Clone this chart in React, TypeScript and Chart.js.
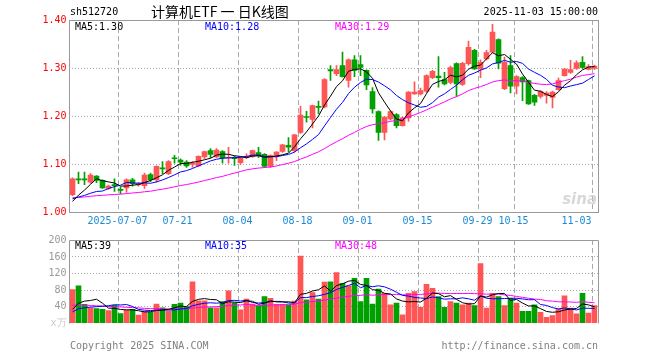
import React, { useEffect, useRef } from "react";
import { Chart, registerables } from "chart.js";

Chart.register(...registerables);

// ---------------- data ----------------
const opens = [
  1.037, 1.069, 1.069, 1.063, 1.076, 1.067, 1.050, 1.057, 1.047, 1.051,
  1.068, 1.058, 1.056, 1.079, 1.068, 1.092, 1.081, 1.113, 1.109, 1.105,
  1.100, 1.097, 1.116, 1.129, 1.116, 1.127, 1.113, 1.115, 1.104, 1.114,
  1.117, 1.125, 1.121, 1.096, 1.119, 1.127, 1.140, 1.129, 1.167, 1.200,
  1.194, 1.221, 1.220, 1.298, 1.289, 1.306, 1.275, 1.318, 1.308, 1.296,
  1.252, 1.210, 1.167, 1.195, 1.204, 1.181, 1.197, 1.247, 1.247, 1.253,
  1.281, 1.284, 1.277, 1.271, 1.310, 1.267, 1.310, 1.338, 1.299, 1.320,
  1.334, 1.360, 1.258, 1.306, 1.263, 1.281, 1.275, 1.244, 1.242, 1.244,
  1.240, 1.256, 1.285, 1.292, 1.300, 1.313, 1.298, 1.300,
];
const highs = [
  1.072, 1.084, 1.084, 1.081, 1.077, 1.068, 1.057, 1.070, 1.053, 1.070,
  1.071, 1.063, 1.082, 1.082, 1.097, 1.106, 1.108, 1.119, 1.112, 1.108,
  1.106, 1.118, 1.128, 1.133, 1.133, 1.129, 1.136, 1.118, 1.116, 1.122,
  1.130, 1.136, 1.123, 1.120, 1.127, 1.142, 1.156, 1.163, 1.221, 1.211,
  1.224, 1.232, 1.279, 1.306, 1.306, 1.334, 1.320, 1.327, 1.327, 1.297,
  1.260, 1.212, 1.200, 1.212, 1.206, 1.199, 1.252, 1.272, 1.259, 1.287,
  1.296, 1.325, 1.292, 1.305, 1.312, 1.313, 1.357, 1.340, 1.318, 1.338,
  1.392, 1.362, 1.324, 1.327, 1.285, 1.283, 1.276, 1.246, 1.254, 1.252,
  1.253, 1.280, 1.300, 1.317, 1.316, 1.325, 1.308, 1.307,
];
const lows = [
  1.035, 1.060, 1.058, 1.061, 1.062, 1.050, 1.048, 1.044, 1.039, 1.042,
  1.055, 1.055, 1.050, 1.064, 1.063, 1.081, 1.079, 1.103, 1.098, 1.094,
  1.094, 1.096, 1.112, 1.114, 1.114, 1.103, 1.103, 1.098, 1.100, 1.112,
  1.115, 1.115, 1.094, 1.094, 1.108, 1.125, 1.126, 1.126, 1.165, 1.188,
  1.176, 1.206, 1.218, 1.275, 1.285, 1.282, 1.261, 1.283, 1.285, 1.256,
  1.207, 1.150, 1.151, 1.193, 1.176, 1.180, 1.190, 1.246, 1.245, 1.250,
  1.279, 1.261, 1.266, 1.268, 1.242, 1.265, 1.307, 1.298, 1.281, 1.318,
  1.333, 1.299, 1.256, 1.249, 1.247, 1.233, 1.225, 1.223, 1.238, 1.228,
  1.218, 1.255, 1.284, 1.290, 1.298, 1.300, 1.297, 1.298,
];
const closes = [
  1.070, 1.068, 1.068, 1.078, 1.067, 1.051, 1.055, 1.056, 1.046, 1.068,
  1.060, 1.060, 1.078, 1.068, 1.096, 1.091, 1.106, 1.112, 1.105, 1.097,
  1.103, 1.117, 1.127, 1.121, 1.130, 1.113, 1.115, 1.112, 1.114, 1.117,
  1.129, 1.119, 1.096, 1.119, 1.126, 1.141, 1.136, 1.162, 1.203, 1.198,
  1.223, 1.219, 1.277, 1.295, 1.298, 1.283, 1.318, 1.296, 1.302, 1.266,
  1.216, 1.167, 1.199, 1.210, 1.181, 1.197, 1.251, 1.251, 1.254, 1.285,
  1.294, 1.281, 1.268, 1.302, 1.268, 1.311, 1.344, 1.299, 1.313, 1.333,
  1.376, 1.311, 1.313, 1.263, 1.283, 1.272, 1.226, 1.230, 1.252, 1.249,
  1.251, 1.275, 1.299, 1.298, 1.312, 1.302, 1.304, 1.305,
];
// volume, in 万
const volumes = [
  81, 90, 45, 37, 35, 33, 30, 43, 23, 31,
  33, 19, 28, 26, 46, 37, 29, 45, 48, 40,
  100, 54, 54, 37, 37, 52, 78, 49, 32, 58,
  46, 41, 64, 60, 45, 45, 43, 53, 162, 56,
  74, 58, 99, 100, 122, 96, 90, 108, 52, 108,
  46, 82, 72, 44, 48, 20, 72, 76, 38, 94,
  84, 64, 38, 52, 48, 44, 48, 42, 144, 36,
  72, 64, 42, 60, 48, 28, 28, 44, 26, 14,
  18, 34, 66, 36, 22, 72, 24, 42,
];
// estimated sessions before the visible window (needed for the moving averages)
const priorCloses = [
  1.045, 1.040, 1.036, 1.030, 1.025, 1.028, 1.033, 1.030, 1.027, 1.024,
  1.029, 1.034, 1.031, 1.028, 1.033, 1.036, 1.032, 1.029, 1.031, 1.034,
  1.030, 1.035, 1.033, 1.030, 1.042, 1.002, 1.016, 1.017, 1.010,
];
const priorVolumes = [
  62, 58, 70, 55, 48, 66, 52, 45, 60, 50,
  44, 57, 49, 41, 53, 46, 38, 42, 48, 35,
  15, 22, 20, 25, 23, 15, 20, 29, 20,
];

const tickIndices = [8, 18, 28, 38, 48, 58, 68, 74, 87];
const tickLabels = ["2025-07-07", "07-21", "08-04", "08-18", "09-01", "09-15", "09-29", "10-15", "11-03"];
const priceTicks = [1.0, 1.1, 1.2, 1.3, 1.4];
const volumeTicks = [0, 40, 80, 120, 160, 200];
const volumeUnit = "x万";

const symbolText = "sh512720";
const titleText = "计算机ETF 一 日K线图";
const timeText = "2025-11-03 15:00:00";
const priceMaLabels = ["MA5:1.30", "MA10:1.28", "MA30:1.29"];
const volumeMaLabels = ["MA5:39", "MA10:35", "MA30:48"];
const copyrightText = "Copyright 2025 SINA.COM";
const urlText = "http://finance.sina.com.cn";

// ---------------- styling ----------------
const RED = "#ff5555";
const GREEN = "#00a000";
const MA_COLORS = ["#000000", "#0000ff", "#ff00ff"];
const MONO = "'DejaVu Sans Mono', 'Liberation Mono', monospace";
const GRID = "#aaaaaa";
const FRAME = "#999999";

function movingAverage(values: number[], prior: number[], n: number) {
  const all = [...prior, ...values];
  return values.map((_, i) => {
    const end = prior.length + i;
    let s = 0;
    for (let k = end - n + 1; k <= end; k++) s += all[k];
    return s / n;
  });
}

const candleColors = closes.map((c, i) => (c > opens[i] ? RED : GREEN));

function drawVerticalGrid(chart: any) {
  const { ctx, chartArea: a, scales } = chart;
  const x = scales.x;
  ctx.save();
  ctx.strokeStyle = GRID;
  ctx.lineWidth = 1;
  ctx.setLineDash([5, 3]);
  for (const t of tickIndices) {
    const px = Math.round(x.getPixelForValue(t)) + 0.5;
    ctx.beginPath();
    ctx.moveTo(px, Math.floor(a.top));
    ctx.lineTo(px, Math.ceil(a.bottom));
    ctx.stroke();
  }
  ctx.restore();
}

function drawHorizontalGrid(chart: any, ticks: number[]) {
  const { ctx, chartArea: a, scales } = chart;
  const y = scales.y;
  ctx.save();
  ctx.strokeStyle = GRID;
  ctx.lineWidth = 1;
  ctx.setLineDash([1, 2]);
  for (const v of ticks) {
    if (v <= y.min || v >= y.max) continue;
    const py = Math.floor(y.getPixelForValue(v)) + 0.5;
    ctx.beginPath();
    ctx.moveTo(Math.floor(a.left), py);
    ctx.lineTo(Math.ceil(a.right), py);
    ctx.stroke();
  }
  ctx.restore();
}

function drawMaLabels(ctx: any, labels: string[], y: number) {
  ctx.save();
  ctx.font = `10px ${MONO}`;
  ctx.textBaseline = "middle";
  ctx.textAlign = "left";
  const xs = [75, 205, 335];
  labels.forEach((t, i) => {
    ctx.fillStyle = MA_COLORS[i];
    ctx.fillText(t, xs[i], y);
  });
  ctx.restore();
}

const priceDecor = {
  id: "priceDecor",
  beforeDatasetsDraw(chart: any) {
    drawHorizontalGrid(chart, priceTicks);
    drawVerticalGrid(chart);
  },
  afterDraw(chart: any) {
    const { ctx, chartArea: a } = chart;
    ctx.save();
    ctx.strokeStyle = FRAME;
    ctx.lineWidth = 1;
    const l = Math.floor(a.left) + 0.5;
    const r = Math.ceil(a.right) + 0.5;
    const t = Math.floor(a.top) + 0.5;
    const b = Math.floor(a.bottom) + 0.5;
    ctx.strokeRect(l, t, r - l, b - t);
    ctx.fillStyle = "#000";
    ctx.textBaseline = "middle";
    ctx.font = `10px ${MONO}`;
    ctx.textAlign = "left";
    ctx.fillText(symbolText, 70, 12);
    ctx.textAlign = "right";
    ctx.fillText(timeText, 598, 12);
    ctx.textAlign = "left";
    ctx.font = "14px 'Noto Sans CJK SC', sans-serif";
    ctx.fillText(titleText, 151, 12);
    ctx.font = "italic bold 15px 'DejaVu Sans', sans-serif";
    ctx.fillStyle = "rgba(200,200,200,0.7)";
    ctx.textAlign = "right";
    ctx.textBaseline = "alphabetic";
    ctx.fillText("sina", 597, 204);
    ctx.restore();
    drawMaLabels(ctx, priceMaLabels, 27);
  },
};

const volumeDecor = {
  id: "volumeDecor",
  beforeDatasetsDraw(chart: any) {
    drawHorizontalGrid(chart, volumeTicks);
    drawVerticalGrid(chart);
  },
  afterDraw(chart: any) {
    const { ctx, chartArea: a } = chart;
    ctx.save();
    ctx.strokeStyle = FRAME;
    ctx.lineWidth = 1;
    const l = Math.floor(a.left) + 0.5;
    const r = Math.ceil(a.right) + 0.5;
    const t = Math.floor(a.top) + 0.5;
    const b = Math.floor(a.bottom) + 0.5;
    ctx.beginPath();
    ctx.moveTo(l, b);
    ctx.lineTo(l, t);
    ctx.lineTo(r, t);
    ctx.lineTo(r, b);
    ctx.stroke();
    ctx.fillStyle = "#808080";
    ctx.font = `10px ${MONO}`;
    ctx.textBaseline = "middle";
    ctx.textAlign = "left";
    ctx.fillText(copyrightText, 70, 116);
    ctx.textAlign = "right";
    ctx.fillText(urlText, 598, 116);
    ctx.restore();
    drawMaLabels(ctx, volumeMaLabels, 16);
  },
};

function lineDataset(label: string, values: number[], color: string) {
  return {
    type: "line" as const,
    label,
    data: values.map((v, i) => ({ x: i + 0.5, y: v })),
    borderColor: color,
    borderWidth: 1,
    pointRadius: 0,
    tension: 0,
    order: 0,
  };
}

export default function App() {
  const priceRef = useRef<HTMLCanvasElement>(null);
  const volRef = useRef<HTMLCanvasElement>(null);

  useEffect(() => {
    document.body.style.margin = "0";
    const n = closes.length;

    const pMa = [5, 10, 30].map((k) => movingAverage(closes, priorCloses, k));
    const vMa = [5, 10, 30].map((k) => movingAverage(volumes, priorVolumes, k));

    const xScale = (showLabels: boolean) => ({
      type: "linear" as const,
      min: 0,
      max: n,
      offset: false,
      bounds: "ticks",
      display: showLabels,
      grid: { display: false, drawTicks: false, offset: false },
      border: { display: false },
      afterBuildTicks: (s: any) => {
        s.ticks = tickIndices.map((v) => ({ value: v }));
      },
      afterFit: (s: any) => {
        s.height = 17.5;
      },
      ticks: {
        autoSkip: false,
        maxRotation: 0,
        minRotation: 0,
        padding: 3,
        color: "#1a8ad6",
        font: { family: MONO, size: 10 },
        callback: (v: any) => {
          const k = tickIndices.indexOf(Number(v));
          if (k < 0) return "";
          // the last label is kept inside the frame (shifted left by padding spaces)
          return k === tickIndices.length - 1 ? tickLabels[k] + "     " : tickLabels[k];
        },
      },
    });

    const priceChart = new Chart(priceRef.current as HTMLCanvasElement, {
      type: "bar",
      data: {
        datasets: [
          lineDataset("MA5", pMa[0], MA_COLORS[0]),
          lineDataset("MA10", pMa[1], MA_COLORS[1]),
          lineDataset("MA30", pMa[2], MA_COLORS[2]),
          {
            type: "bar",
            label: "body",
            data: closes.map((c, i) => ({ x: i + 0.5, y: [Math.min(opens[i], c), Math.max(opens[i], c)] })),
            backgroundColor: candleColors,
            barThickness: 5,
            minBarLength: 1,
            grouped: false,
            order: 2,
          } as any,
          {
            type: "bar",
            label: "wick",
            data: highs.map((h, i) => ({ x: i + 0.5, y: [lows[i], h] })),
            backgroundColor: candleColors,
            barThickness: 1,
            grouped: false,
            order: 3,
          } as any,
        ],
      },
      options: {
        animation: false,
        responsive: false,
        maintainAspectRatio: false,
        layout: { padding: { top: 20.5, right: 62.5, left: 0, bottom: 0 } },
        plugins: { legend: { display: false }, tooltip: { enabled: false } },
        scales: {
          x: xScale(true) as any,
          y: {
            type: "linear",
            min: 1.0,
            max: 1.4,
            grid: { display: false, drawTicks: false },
            border: { display: false },
            afterBuildTicks: (s: any) => {
              s.ticks = priceTicks.map((v) => ({ value: v }));
            },
            afterFit: (s: any) => {
              s.width = 69.5;
            },
            ticks: {
              padding: 3,
              color: "#ff0000",
              font: { family: MONO, size: 10 },
              callback: (v: any) => Number(v).toFixed(2),
            },
          } as any,
        },
      },
      plugins: [priceDecor],
    });

    const volChart = new Chart(volRef.current as HTMLCanvasElement, {
      type: "bar",
      data: {
        datasets: [
          lineDataset("MA5", vMa[0], MA_COLORS[0]),
          lineDataset("MA10", vMa[1], MA_COLORS[1]),
          lineDataset("MA30", vMa[2], MA_COLORS[2]),
          {
            type: "bar",
            label: "volume",
            data: volumes.map((v, i) => ({ x: i + 0.5, y: v })),
            backgroundColor: candleColors,
            barThickness: 5,
            grouped: false,
            order: 2,
          } as any,
        ],
      },
      options: {
        animation: false,
        responsive: false,
        maintainAspectRatio: false,
        layout: { padding: { top: 10.5, right: 62.5, left: 0, bottom: 19.5 } },
        plugins: { legend: { display: false }, tooltip: { enabled: false } },
        scales: {
          x: xScale(false) as any,
          y: {
            type: "linear",
            min: 0,
            max: 200,
            grid: { display: false, drawTicks: false },
            border: { display: false },
            afterBuildTicks: (s: any) => {
              s.ticks = volumeTicks.map((v) => ({ value: v }));
            },
            afterFit: (s: any) => {
              s.width = 69.5;
            },
            ticks: {
              padding: 3,
              color: (c: any) => (c.tick && c.tick.value === 0 ? "#c8c8c8" : "#999999"),
              font: { family: MONO, size: 10 },
              callback: (v: any) => (Number(v) === 0 ? volumeUnit : String(v)),
            },
          } as any,
        },
      },
      plugins: [volumeDecor],
    });

    return () => {
      priceChart.destroy();
      volChart.destroy();
    };
  }, []);

  return (
    <div style={{ position: "relative", width: 660, height: 360, background: "#fff" }}>
      <canvas
        ref={priceRef}
        width={660}
        height={230}
        style={{ position: "absolute", left: 0, top: 0, width: 660, height: 230 }}
      />
      <canvas
        ref={volRef}
        width={660}
        height={130}
        style={{ position: "absolute", left: 0, top: 230, width: 660, height: 130 }}
      />
    </div>
  );
}
